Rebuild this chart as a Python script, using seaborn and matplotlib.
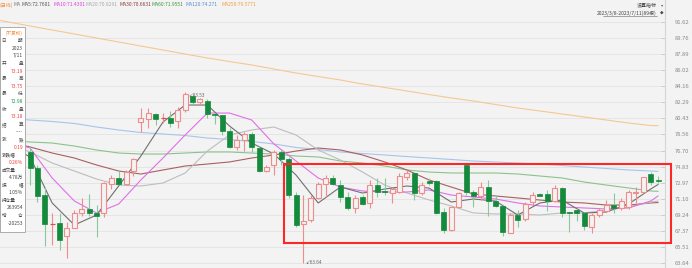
import numpy as np
import pandas as pd
import matplotlib
matplotlib.use("Agg")
import matplotlib.pyplot as plt
import seaborn as sns
from matplotlib.patches import Rectangle

# ---------------- data ----------------
opens = [76.53, 74.63, 71.54, 68.12, 68.25, 66.81, 67.74, 69.41, 69.91, 69.48,
         69.41, 72.81, 73.54, 72.81, 74.32, 80.04, 80.32, 80.94, 80.42, 80.44,
         80.13, 81.40, 83.06, 82.37, 82.45, 80.90, 80.82, 78.96, 77.07, 77.92,
         78.62, 77.03, 74.32, 75.02, 76.56, 75.71, 71.53, 68.13, 68.63, 71.22,
         72.77, 73.47, 72.69, 71.34, 69.99, 71.27, 70.57, 72.69, 72.03, 71.73,
         71.92, 73.66, 74.12, 71.73, 73.16, 73.16, 69.60, 67.47, 70.11, 75.02,
         71.92, 71.42, 72.43, 70.88, 70.26, 67.16, 69.21, 68.71, 70.76, 71.65,
         71.65, 70.84, 72.38, 69.52, 69.79, 69.41, 67.86, 69.21, 69.71, 70.37,
         69.99, 70.11, 71.73, 71.85, 73.94, 73.19]
highs = [77.22, 75.02, 72.50, 69.44, 69.44, 68.43, 69.79, 71.19, 71.65, 70.37,
         73.08, 73.86, 74.32, 74.44, 75.82, 81.60, 81.67, 81.02, 81.02, 81.29,
         81.79, 83.53, 83.14, 82.80, 82.64, 81.02, 80.82, 79.31, 78.50, 78.88,
         78.88, 77.22, 75.02, 76.76, 76.76, 75.98, 71.88, 71.53, 71.53, 73.08,
         73.86, 73.86, 73.27, 71.92, 71.53, 71.53, 73.27, 73.47, 73.47, 72.50,
         74.05, 74.44, 74.24, 73.08, 73.47, 73.27, 69.99, 70.14, 71.92, 75.02,
         72.12, 73.08, 73.27, 71.53, 70.37, 69.44, 69.79, 70.76, 71.92, 71.77,
         72.12, 72.69, 72.50, 69.60, 69.91, 69.60, 69.41, 69.99, 70.95, 71.73,
         71.15, 72.12, 72.50, 73.66, 74.24, 73.75]
lows = [72.69, 70.76, 65.65, 65.72, 65.15, 64.26, 67.70, 69.13, 69.13, 66.69,
        69.02, 72.20, 72.69, 72.69, 73.77, 78.88, 79.28, 79.66, 79.93, 79.46,
        79.35, 81.17, 81.98, 81.98, 80.44, 79.74, 78.50, 76.99, 76.76, 76.64,
        76.56, 74.20, 74.20, 73.86, 75.02, 71.15, 67.85, 63.64, 68.43, 71.07,
        71.34, 72.69, 70.76, 69.79, 69.41, 70.37, 69.99, 71.34, 71.53, 70.57,
        71.77, 73.27, 70.95, 71.53, 72.69, 69.33, 67.09, 67.41, 69.99, 71.53,
        70.18, 70.95, 69.09, 70.14, 66.78, 67.09, 67.85, 68.55, 70.37, 71.42,
        69.71, 70.76, 68.94, 67.27, 68.55, 67.47, 67.09, 69.02, 69.60, 69.41,
        69.79, 69.91, 70.57, 71.65, 72.69, 72.98]
closes = [74.67, 71.42, 68.13, 68.18, 66.31, 67.74, 69.48, 69.87, 69.41, 69.13,
          72.89, 73.47, 72.77, 74.24, 75.71, 80.44, 81.02, 80.32, 80.48, 79.86,
          81.40, 83.22, 82.37, 82.64, 80.90, 80.79, 78.96, 77.07, 77.92, 78.58,
          77.07, 74.32, 74.75, 76.56, 75.71, 71.53, 68.05, 68.55, 71.22, 72.77,
          73.47, 72.77, 71.34, 69.99, 71.15, 70.49, 72.69, 71.92, 71.88, 72.20,
          73.74, 74.12, 71.80, 72.69, 72.89, 69.48, 67.47, 70.11, 71.73, 71.92,
          71.42, 72.43, 70.88, 70.29, 67.27, 69.21, 68.63, 70.49, 71.53, 71.45,
          70.84, 72.31, 69.48, 69.41, 69.48, 67.94, 69.21, 69.79, 70.37, 70.06,
          70.88, 71.85, 71.92, 73.59, 72.99, 73.18]

# moving-average readings at these bar positions
ma_idx = [-4, 0, 3, 6, 9, 12, 15, 18, 21, 24, 27, 30, 33, 36, 39, 42, 45, 48,
          51, 54, 57, 60, 63, 66, 69, 72, 75, 78, 81, 84, 85]
ma5 = [77.92, 75.95, 70.61, 68.05, 69.21, 72.58, 76.06, 80.01, 81.98, 81.98,
       79.54, 77.57, 76.29, 73.85, 70.61, 72.46, 71.76, 72.23, 72.58, 72.34,
       70.72, 71.07, 70.83, 69.21, 70.61, 70.95, 69.44, 69.56, 70.49, 72.23, 72.76]
ma10 = [77.92, 77.00, 73.51, 70.84, 69.45, 70.49, 73.28, 75.83, 78.50, 81.05,
        81.05, 80.24, 77.46, 75.48, 73.51, 72.46, 72.00, 71.88, 71.88, 72.12,
        71.53, 71.30, 71.07, 70.61, 70.26, 70.14, 70.03, 69.91, 70.03, 70.84, 71.43]
ma20 = [77.92, 76.53, 75.25, 74.32, 73.39, 72.69, 72.58, 72.93, 74.09, 76.64,
        78.50, 79.08, 79.43, 78.50, 76.76, 75.60, 74.20, 72.69, 71.77, 70.96,
        70.26, 69.45, 69.33, 69.33, 69.21, 69.45, 69.45, 69.79, 70.14, 70.72, 70.83]
ma30 = [77.92, 77.11, 76.41, 75.83, 75.02, 74.32, 73.97, 74.44, 74.90, 75.13,
        75.37, 75.83, 76.18, 76.64, 76.99, 76.76, 76.18, 75.37, 74.44, 73.28,
        72.46, 71.65, 71.42, 71.19, 70.95, 70.72, 70.61, 70.37, 70.37, 70.61, 70.66]
ma60 = [77.92, 77.69, 77.57, 77.22, 76.76, 76.41, 76.29, 76.29, 76.41, 76.53,
        76.53, 76.41, 76.29, 76.06, 75.95, 75.48, 75.25, 74.90, 74.44, 74.20,
        74.09, 74.09, 74.09, 73.97, 73.74, 73.51, 73.04, 72.69, 72.35, 72.00, 71.96]
ma120 = [80.47, 80.24, 80.07, 79.84, 79.43, 79.08, 78.79, 78.62, 78.44, 78.15,
         77.98, 77.75, 77.46, 77.05, 76.82, 76.53, 76.35, 76.18, 76.00, 75.83,
         75.66, 75.48, 75.37, 75.25, 75.13, 74.96, 74.78, 74.61, 74.44, 74.32, 74.27]
ma250 = [91.79, 91.16, 90.69, 90.23, 89.76, 89.30, 88.83, 88.37, 87.90, 87.44,
         87.03, 86.63, 86.16, 85.70, 85.29, 84.89, 84.42, 84.02, 83.61, 83.20,
         82.80, 82.45, 82.04, 81.63, 81.29, 80.94, 80.59, 80.24, 79.89, 79.60, 79.58]

y_ticks = [91.62, 89.76, 87.89, 86.02, 84.16, 82.29, 80.43, 78.56, 76.70,
           74.83, 72.97, 71.10, 69.24, 67.37, 65.51, 63.64]
y_tick_labels = ["91.62", "89.76", "87.89", "86.02", "84.16", "82.29", "80.43",
                 "78.56", "76.70", "74.83", "72.97", "71.10", "69.24", "67.37",
                 "65.51", "63.64"]

header_items = [("(日线)", "#f08c3c"), ("MA", "#777777"), ("MA5:72.7601", "#555555"),
                ("MA10:71.4301", "#e040e0"), ("MA20:70.8291", "#aaaaaa"),
                ("MA30:70.6631", "#8b3a3a"), ("MA60:71.9551", "#3a993a"),
                ("MA120:74.271", "#5b8fd6"), ("MA250:79.5771", "#f0a040")]

# info panel: (label, value, value colour)
info_title = "(不复权)"
info_rows = [("日期", "2023\n7/11", "#444444"), ("开盘", "73.19", "#f03c3c"),
             ("最高", "73.75", "#f03c3c"), ("最低", "72.98", "#1a9a4a"),
             ("收盘", "73.18", "#f03c3c"), ("结算", "----", "#444444"),
             ("涨跌", "0.19", "#f03c3c"), ("涨跌幅", "0.26%", "#f03c3c"),
             ("成交量", "4.78万", "#444444"), ("振幅", "1.05%", "#444444"),
             ("持仓量", "263954", "#444444"), ("增仓", "-20253", "#444444")]

# ---------------- style ----------------
sns.set_style("white")
plt.rcParams["font.family"] = ["Noto Sans CJK SC", "DejaVu Sans"]

W, H = 692, 268
BG = "#f3f3f3"
fig = plt.figure(figsize=(W / 100, H / 100), dpi=100, facecolor=BG)

P_TOP, P_PER_PX = 94.174, 0.1161
step = 7.39
x0_px = 30.0
ax = fig.add_axes([0, 0, 665 / W, 1])
ax.set_facecolor(BG)
ax.set_xlim(-x0_px / step, (665 - x0_px) / step)
ax.set_ylim(P_TOP - P_PER_PX * H, P_TOP)

for t in y_ticks:
    ax.axhline(t, color="#e3e3e3", lw=0.6, zorder=0)

# ---------------- moving averages (seaborn) ----------------
ma_series = {"MA250": ma250, "MA120": ma120, "MA60": ma60, "MA30": ma30,
             "MA20": ma20, "MA10": ma10, "MA5": ma5}
palette = {"MA5": "#707070", "MA10": "#e070e8", "MA20": "#bdbdbd", "MA30": "#a86060",
           "MA60": "#8cc28c", "MA120": "#a8c4ec", "MA250": "#f5c890"}
df = pd.concat([pd.DataFrame({"idx": ma_idx, "value": v, "ma": k})
                for k, v in ma_series.items()], ignore_index=True)
sns.lineplot(data=df, x="idx", y="value", hue="ma", palette=palette, ax=ax,
             legend=False, linewidth=0.8, sort=False, zorder=2)

# ---------------- candles ----------------
RED = "#f28b8b"
GREEN = "#138a3c"
GWICK = "#86c99a"
bw = 5.0 / step
n = len(closes)
for i in range(n):
    o, h, l, c = opens[i], highs[i], lows[i], closes[i]
    if c >= o:
        top, bot = c, o
        ax.vlines(i, top, h, color=RED, lw=0.8, zorder=3)
        ax.vlines(i, l, bot, color=RED, lw=0.8, zorder=3)
        if top - bot < 0.12:
            ax.hlines((top + bot) / 2, i - bw / 2, i + bw / 2, color="#e84848", lw=0.9, zorder=4)
        else:
            ax.add_patch(Rectangle((i - bw / 2, bot), bw, top - bot, facecolor=BG,
                                   edgecolor=RED, lw=0.8, zorder=4))
    else:
        ax.vlines(i, l, h, color=GWICK, lw=0.8, zorder=3)
        hgt = max(o - c, 0.1)
        ax.add_patch(Rectangle((i - bw / 2, c), bw, hgt, facecolor=GREEN,
                               edgecolor=GREEN, lw=0.5, zorder=4))

imax = int(np.argmax(highs))
imin = int(np.argmin(lows))
ax.text(imax + 0.4, highs[imax] - 0.5, "↙" + f"{highs[imax]:.2f}", fontsize=3.4,
        color="#666666", ha="left", va="center", zorder=6)
ax.text(imin + 0.2, lows[imin] + 0.1, "↙" + f"{lows[imin]:.2f}", fontsize=3.4,
        color="#666666", ha="left", va="center", zorder=6)

# ---------------- axes cosmetics ----------------
for s in ["left", "top", "bottom"]:
    ax.spines[s].set_visible(False)
ax.spines["right"].set_color("#d6d6d6")
ax.spines["right"].set_linewidth(0.8)
ax.set_xticks([])
ax.yaxis.tick_right()
ax.set_yticks(y_ticks)
ax.set_yticklabels(y_tick_labels)
ax.tick_params(axis="y", labelsize=4.2, labelcolor="#8a8a8a", color="#c8c8c8",
               direction="in", length=3, width=0.6, pad=7)
ax.set_xlabel("")
ax.set_ylabel("")


def fx(px):
    return px / W


def fy(py):
    return 1 - py / H


xpos = [0, 13, 22, 53, 86, 119, 152, 185, 221]
for (txt, col), xp in zip(header_items, xpos):
    fig.text(fx(xp), fy(5), txt, fontsize=3.6, color=col, ha="left", va="center")

fig.text(fx(657), fy(5), "设置指标", fontsize=3.6, color="#444444", ha="right", va="center")
fig.text(fx(661), fy(5), "▾", fontsize=3.2, color="#666666", ha="left", va="center")
fig.text(fx(657), fy(13), "2023/3/8-2023/7/11(89根)", fontsize=3.6, color="#444444",
         ha="right", va="center")
fig.add_artist(plt.Line2D([fx(603), fx(657)], [fy(16.2), fy(16.2)], color="#666666", lw=0.4))
fig.text(fx(660), fy(13), "◆", fontsize=2.6, color="#444444", ha="left", va="center")

# info panel
fig.add_artist(Rectangle((fx(0), fy(232)), fx(24.5), (232 - 27) / H, transform=fig.transFigure,
                         facecolor="white", edgecolor="#a0a0a0", lw=0.6, zorder=10))
fig.text(fx(23), fy(33), info_title, fontsize=3.3, color="#f08c3c", ha="right",
         va="center", zorder=11)
yy = 40.7
for label, value, vcol in info_rows:
    if len(label) == 2:
        fig.text(fx(1.5), fy(yy), label[0], fontsize=3.3, color="#444444", ha="left",
                 va="center", zorder=11)
        fig.text(fx(23), fy(yy), label[1], fontsize=3.3, color="#444444", ha="right",
                 va="center", zorder=11)
    else:
        fig.text(fx(1.5), fy(yy), label, fontsize=3.3, color="#444444", ha="left",
                 va="center", zorder=11)
    yy += 7.6
    for part in value.split("\n"):
        fig.text(fx(23), fy(yy), part, fontsize=3.5, color=vcol, ha="right",
                 va="center", zorder=11)
        yy += 7.6

fig.add_artist(Rectangle((fx(283.5), fy(243)), (671 - 283.5) / W, (243 - 164) / H,
                         transform=fig.transFigure, facecolor="none",
                         edgecolor="#ff2626", lw=1.5, zorder=12))

fig.savefig("out.png", dpi=100, facecolor=BG)
